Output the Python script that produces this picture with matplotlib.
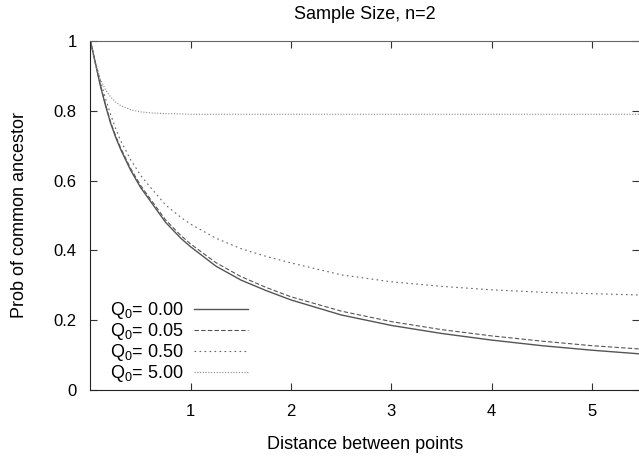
import matplotlib
matplotlib.use("Agg")
import matplotlib.pyplot as plt

plt.rcParams["font.family"] = ["Liberation Sans", "DejaVu Sans"]
plt.rcParams["mathtext.fontset"] = "custom"
plt.rcParams["mathtext.rm"] = "Liberation Sans"
plt.rcParams["mathtext.it"] = "Liberation Sans"

# distance between points
dist = [0, 0.05, 0.1, 0.15, 0.2, 0.25, 0.3, 0.4, 0.5, 0.6, 0.75, 0.9, 1.0, 1.25, 1.5, 1.75,
        2.0, 2.5, 3.0, 3.5, 4.0, 4.5, 5.0, 5.5]

# probability of common ancestor for each Q0
q_000 = [1.0, 0.935, 0.87, 0.815, 0.765, 0.725, 0.69, 0.63, 0.58, 0.54, 0.48, 0.435, 0.41,
         0.355, 0.315, 0.285, 0.258, 0.215, 0.185, 0.162, 0.143, 0.127, 0.114, 0.103]
q_005 = [1.0, 0.936, 0.872, 0.818, 0.768, 0.729, 0.694, 0.635, 0.586, 0.546, 0.487, 0.443, 0.418,
         0.365, 0.325, 0.294, 0.267, 0.226, 0.196, 0.173, 0.155, 0.14, 0.127, 0.117]
q_050 = [1.0, 0.94, 0.885, 0.835, 0.79, 0.75, 0.715, 0.66, 0.615, 0.58, 0.53, 0.495, 0.475,
         0.435, 0.405, 0.383, 0.364, 0.33, 0.31, 0.297, 0.287, 0.28, 0.276, 0.272]
q_500 = [1.0, 0.93, 0.89, 0.86, 0.84, 0.825, 0.815, 0.803, 0.797, 0.794, 0.792, 0.791, 0.79,
         0.79, 0.79, 0.79, 0.79, 0.79, 0.79, 0.79, 0.79, 0.79, 0.79, 0.79]

labels = ["$\\mathregular{Q_0}$= 0.00", "$\\mathregular{Q_0}$= 0.05",
          "$\\mathregular{Q_0}$= 0.50", "$\\mathregular{Q_0}$= 5.00"]

fig = plt.figure(figsize=(6.39, 4.58), dpi=100)
ax = fig.add_axes([0.1416, 0.1485, 0.8584, 0.762])

ax.plot(dist, q_000, color="#555555", lw=1.0, ls="-", label=labels[0])
ax.plot(dist, q_005, color="#555555", lw=0.8, ls=(0, (4, 2)), label=labels[1])
ax.plot(dist, q_050, color="#666666", lw=0.8, ls=(0, (1.5, 3)), label=labels[2])
ax.plot(dist, q_500, color="#888888", lw=0.8, ls=(0, (1, 1.5)), label=labels[3])

ax.set_xlim(0, 5.47)
ax.set_ylim(0, 1)
ax.set_xticks([1, 2, 3, 4, 5])
ax.set_yticks([0, 0.2, 0.4, 0.6, 0.8, 1])
ax.set_yticklabels(["0", "0.2", "0.4", "0.6", "0.8", "1"])
ax.tick_params(direction="in", top=True, right=True, length=5, width=0.8,
               labelsize=12, pad=10, colors="#333333", labelcolor="black")
for s in ["left", "bottom"]:
    ax.spines[s].set_color("#222222")
ax.spines["top"].set_color("#666666")
ax.spines["right"].set_visible(False)

ax.set_title("Sample Size, n=2", fontsize=13, pad=16)
ax.set_xlabel("Distance between points", fontsize=13, labelpad=12)
ax.set_ylabel("Prob of common ancestor", fontsize=13, labelpad=18)

ax.legend(loc="lower left", bbox_to_anchor=(0.012, -0.02), frameon=False,
          markerfirst=False, fontsize=13, handlelength=3.0, handletextpad=0.6,
          labelspacing=0.0, borderaxespad=0.3)

fig.savefig("out.png", dpi=100)
